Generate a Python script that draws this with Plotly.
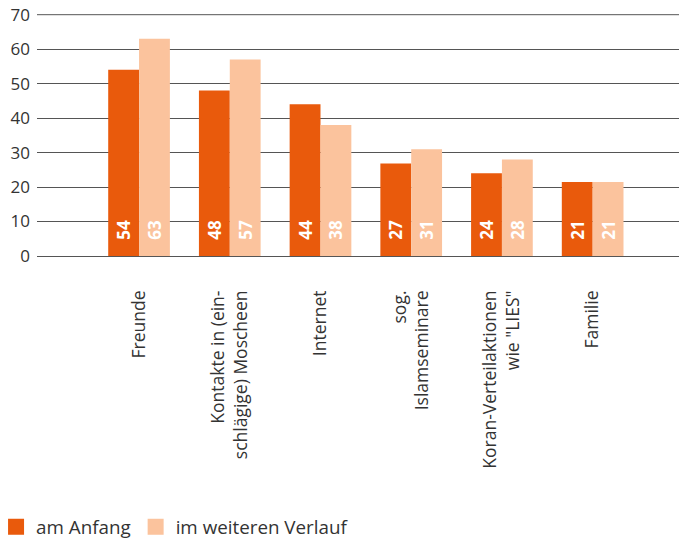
import plotly.graph_objects as go

categories = ["Freunde", "Kontakte in (ein-<br>schlägige) Moscheen", "Internet",
              "sog.<br>Islamseminare", "Koran-Verteilaktionen<br>wie \"LIES\"", "Familie"]
series_names = ["am Anfang", "im weiteren Verlauf"]
values_anfang = [54, 48, 44, 26.8, 24, 21.5]
values_verlauf = [63, 57, 38, 31, 28, 21.5]
labels_anfang = ["54", "48", "44", "27", "24", "21"]
labels_verlauf = ["63", "57", "38", "31", "28", "21"]
colors = ["#E95A0C", "#FBC39D"]
y_ticks = [0, 10, 20, 30, 40, 50, 60, 70]

PAD = "\u00a0\u00a0\u00a0"

fig = go.Figure()
for name, vals, labs, col in [(series_names[0], values_anfang, labels_anfang, colors[0]),
                              (series_names[1], values_verlauf, labels_verlauf, colors[1])]:
    fig.add_trace(go.Bar(
        x=list(range(len(categories))), y=vals, name=name, marker_color=col,
        marker_line_width=0, showlegend=False,
        text=[PAD + t for t in labs], textposition="inside", insidetextanchor="start", textangle=-90,
        textfont=dict(family="Open Sans", size=17, color="white", weight="bold"),
    ))
# legend entries with square swatches
for name, col in zip(series_names, colors):
    fig.add_trace(go.Scatter(
        x=[None], y=[None], mode="markers", name=name,
        marker=dict(symbol="square", size=17, color=col), showlegend=True,
    ))

# top gridline (plotly omits the grid line on the plot edge)
fig.add_shape(type="line", xref="paper", x0=0, x1=1, yref="y", y0=y_ticks[-1], y1=y_ticks[-1],
              line=dict(color="#555555", width=1), layer="below")

fig.update_layout(
    width=679, height=532,
    margin=dict(l=29, r=0, t=6, b=284, autoexpand=False),
    barmode="group", bargap=0.32, bargroupgap=0,
    plot_bgcolor="white", paper_bgcolor="white",
    font=dict(family="Open Sans", color="#333333"),
    legend=dict(orientation="h", x=-0.063, xref="paper", xanchor="left",
                y=-1.12, yref="paper", yanchor="middle",
                font=dict(size=18.8, color="#333333"), traceorder="normal",
                itemsizing="trace"),
)
fig.update_xaxes(
    tickmode="array", tickvals=list(range(len(categories))), ticktext=categories,
    tickangle=-90, range=[-1.125, 6.04], showgrid=False, zeroline=False,
    showline=False, ticks="", ticklabelstandoff=30, automargin=False,
    tickfont=dict(size=17.5, color="#333333", family="Open Sans"),
)
fig.update_yaxes(
    range=[0, 70.2], tickmode="array", tickvals=y_ticks, showgrid=True, gridcolor="#555555", gridwidth=1,
    zeroline=True, zerolinecolor="#555555", zerolinewidth=1, ticklabeloverflow="allow",
    automargin=False,
    tickfont=dict(size=17, color="#333333", family="Open Sans"), ticks="", ticklabelstandoff=6,
)
fig.write_html("out.html")
